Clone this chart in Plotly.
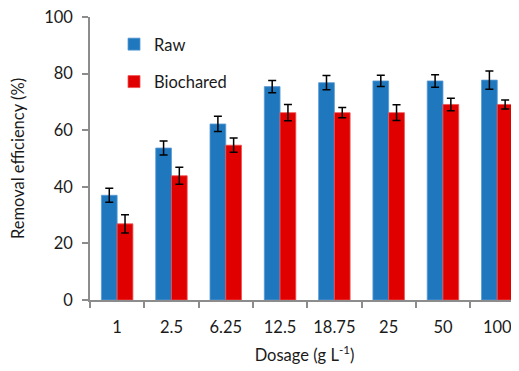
import plotly.graph_objects as go

categories = ["1", "2.5", "6.25", "12.5", "18.75", "25", "50", "100"]
raw = [37.0, 53.7, 62.2, 75.4, 76.8, 77.4, 77.4, 77.7]
raw_err = [2.5, 2.5, 2.7, 2.2, 2.5, 2.0, 2.2, 3.2]
biochared = [26.9, 43.9, 54.7, 66.2, 66.2, 66.2, 69.1, 69.1]
biochared_err = [3.2, 3.0, 2.5, 2.9, 1.8, 2.8, 2.2, 1.6]

FONT = "Lato"
FS = 16.5
err_style = dict(type="data", visible=True, color="black", thickness=1.5, width=4)

fig = go.Figure()
fig.add_trace(go.Bar(
    x=categories, y=raw, name="Raw", legendgroup="a",
    marker=dict(color="#1f78be", line=dict(color="#5a9bd5", width=0.8)),
    error_y=dict(array=raw_err, **err_style),
))
fig.add_trace(go.Bar(
    x=categories, y=biochared, name="Biochared", legendgroup="b",
    marker=dict(color="#e00000", line=dict(color="#f05050", width=0.8)),
    error_y=dict(array=biochared_err, **err_style),
))

fig.update_layout(
    width=511, height=363,
    margin=dict(l=82, r=0, t=9, b=71),
    paper_bgcolor="white", plot_bgcolor="white",
    font=dict(family=FONT, size=FS, color="#1a1a1a"),
    barmode="group", bargap=0.42, bargroupgap=0,
    showlegend=True,
    legend=dict(x=0.056, y=0.965, xanchor="left", yanchor="top",
                bgcolor="rgba(0,0,0,0)", font=dict(family=FONT, size=FS),
                traceorder="grouped", tracegroupgap=13),
    xaxis=dict(
        type="category", range=[-0.5, 7.4],
        showline=True, linecolor="#8c8c8c", linewidth=1.5,
        ticks="outside", tickson="boundaries", ticklen=6, tickcolor="#8c8c8c",
        tickwidth=1.5, showgrid=False, zeroline=False,
        tickfont=dict(size=FS), ticklabelstandoff=11, ticklabeloverflow="allow",
        title=dict(text="Dosage (g L<sup>-1</sup>)", font=dict(size=FS), standoff=14),
    ),
    yaxis=dict(
        range=[0, 100], tickvals=[0, 20, 40, 60, 80, 100],
        showline=True, linecolor="#8c8c8c", linewidth=1.5,
        ticks="outside", ticklen=6, tickcolor="#8c8c8c", tickwidth=1.5,
        showgrid=False, zeroline=False, tickfont=dict(size=FS),
        ticklabelstandoff=6, ticklabeloverflow="allow",
        title=dict(text="Removal efficiency (%)", font=dict(size=FS), standoff=22),
    ),
)

fig.write_html("out.html")
